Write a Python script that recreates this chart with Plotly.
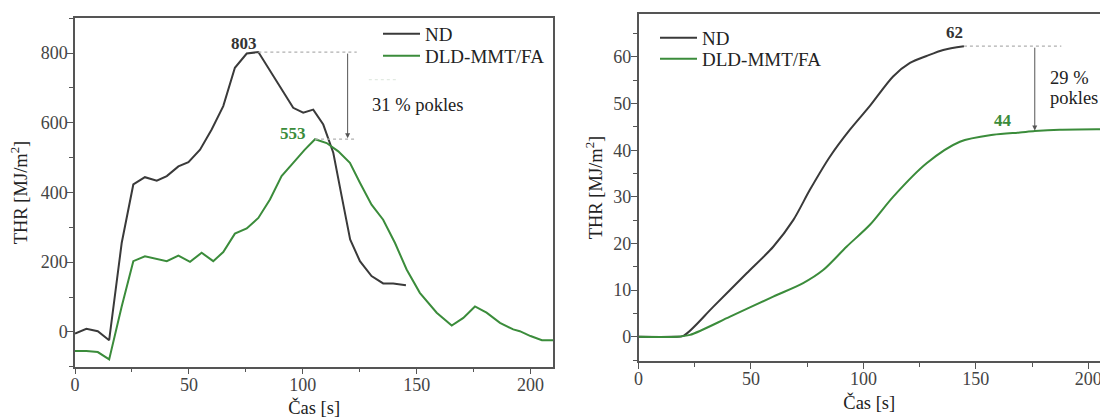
import plotly.graph_objects as go

# ---------------- data ----------------
series_names = ["ND", "DLD-MMT/FA"]

left_nd_time = [0, 5, 10, 15, 20.5, 25.6, 30.7, 35.9, 40.3, 45.4, 49.8, 54.9, 60, 65.1, 70.2,
                75.4, 80.5, 85, 90, 95.8, 100.2, 104.6, 109, 113.4, 117.1, 120.8, 125.1,
                130.2, 135.3, 139.7, 145.3]
left_nd_thr = [-5, 9, 2, -24, 255, 423, 444, 434, 447, 475, 487, 523, 581, 648, 758,
               799, 803, 757, 705, 643, 629, 638, 595, 514, 389, 265, 203,
               160, 139, 139, 134]

left_fa_time = [0, 5, 10, 15, 20.5, 25.6, 30.7, 35.9, 40.3, 45.4, 50.5, 55.6, 60.7, 65.1,
                70.2, 75.4, 80.5, 85.6, 90.7, 95.8, 100.9, 105.4, 110.5, 115.6, 120.7,
                125.1, 130.2, 135.3, 140.5, 145.6, 151.4, 158.8, 165.4, 170.5, 175.6,
                180.7, 186.6, 192.4, 195.3, 200, 205, 210]
left_fa_thr = [-55, -55, -58, -79, 73, 203, 217, 209, 203, 219, 201, 227, 203, 229,
               282, 297, 327, 380, 447, 485, 523, 553, 542, 518, 485,
               428, 365, 322, 255, 179, 112, 55, 18, 40, 73,
               55, 26, 7, 2, -12, -24, -24]

right_nd_time = [0, 15, 20, 33.2, 48.1, 59.9, 68.8, 76.2, 85.1, 94, 102.9, 113.2, 120.7,
                 128.1, 135.5, 144.7]
right_nd_thr = [0, 0, 0.2, 6.4, 13.6, 19.3, 25.0, 31.5, 38.6, 44.4, 49.5, 55.8, 58.7,
                60.2, 61.5, 62.3]

right_fa_time = [0, 17, 22.9, 40.7, 59.9, 73.2, 82.1, 92.5, 102.9, 113.2, 128.1, 142.9,
                 157.7, 169.6, 176.2, 187.3, 205, 212]
right_fa_thr = [0, 0, 0.4, 4.3, 8.6, 11.5, 14.3, 19.3, 24.0, 30.0, 37.2, 41.8,
                43.3, 43.8, 44.1, 44.4, 44.5, 44.5]

left_peaks = [803, 553]
right_peaks = [62, 44]
left_drop_text = "31 % pokles"
right_drop_lines = ["29 %", "pokles"]
x_title = "Čas [s]"
y_title = "THR [MJ/m<sup>2</sup>]"

# ---------------- style ----------------
FONT = "Liberation Serif, Times New Roman, Tinos, serif"
C_ND = "#3a3a3a"
C_FA = "#3b8c3b"
AX = "#555555"
TICKC = "#444444"
W, H = 1100, 418

fig = go.Figure()

fig.add_trace(go.Scatter(x=left_nd_time, y=left_nd_thr, mode="lines", name=series_names[0],
                         line=dict(color=C_ND, width=2), xaxis="x", yaxis="y", legend="legend"))
fig.add_trace(go.Scatter(x=left_fa_time, y=left_fa_thr, mode="lines", name=series_names[1],
                         line=dict(color=C_FA, width=2), xaxis="x", yaxis="y", legend="legend2"))
fig.add_trace(go.Scatter(x=right_nd_time, y=right_nd_thr, mode="lines", name=series_names[0],
                         line=dict(color=C_ND, width=2, shape="spline", smoothing=0.8),
                         xaxis="x2", yaxis="y2", legend="legend3"))
fig.add_trace(go.Scatter(x=right_fa_time, y=right_fa_thr, mode="lines", name=series_names[1],
                         line=dict(color=C_FA, width=2, shape="spline", smoothing=0.8),
                         xaxis="x2", yaxis="y2", legend="legend4"))

def axis_common():
    return dict(showline=True, linecolor=AX, linewidth=1.5, ticks="outside", ticklen=6,
                tickwidth=1.2, tickcolor=AX, showgrid=False, zeroline=False, automargin=False,
                ticklabeloverflow="allow",
                tickfont=dict(family=FONT, size=18, color=TICKC),
                title_font=dict(family=FONT, size=18.5, color="#222222"))

xl = axis_common()
xl.update(domain=[75 / W, 553.3 / W], range=[0, 210], dtick=50, tick0=0,
          mirror=True, anchor="y", title=dict(text=x_title, standoff=8), ticklabelstandoff=-5,
          minor=dict(dtick=25, ticks="outside", ticklen=4, tickcolor=AX))
yl = axis_common()
yl.update(domain=[(H - 366.7) / H, (H - 18.3) / H], range=[-100, 900], dtick=200,
          tick0=0, mirror=True, anchor="x", title=dict(text=y_title, standoff=8), ticklabelstandoff=-4,
          minor=dict(dtick=100, ticks="outside", ticklen=4, tickcolor=AX))
xr = axis_common()
xr.update(domain=[638.5 / W, 1.0], range=[0, 205.2], dtick=50, tick0=0,
          mirror=True, anchor="y2", title=dict(text=x_title, standoff=8), ticklabelstandoff=-5,
          minor=dict(dtick=25, ticks="outside", ticklen=4, tickcolor=AX))
yr = axis_common()
yr.update(domain=[(H - 361) / H, (H - 14) / H], range=[-5.2, 69.2], dtick=10,
          tick0=0, mirror=False, anchor="x2", title=dict(text=y_title, standoff=6), ticklabelstandoff=-4,
          minor=dict(dtick=5, ticks="outside", ticklen=4, tickcolor=AX))

def leg(xpx, ypx):
    return dict(x=xpx / W, y=(H - ypx) / H, xanchor="left", yanchor="top",
                bgcolor="rgba(0,0,0,0)", font=dict(family=FONT, size=19, color="#222222"),
                itemwidth=37)

fig.update_layout(
    width=W, height=H,
    margin=dict(l=0, r=0, t=0, b=0, autoexpand=False),
    paper_bgcolor="white", plot_bgcolor="white",
    font=dict(family=FONT, size=16, color="#222222"),
    xaxis=xl, yaxis=yl, xaxis2=xr, yaxis2=yr,
    legend=leg(378, 15), legend2=leg(378, 37),
    legend3=leg(655, 19), legend4=leg(655, 40),
    showlegend=True,
)

# guide lines (dotted)
dot = dict(color="#b0b0b0", width=1.2, dash="dot")
fig.add_shape(type="line", xref="x", yref="y", x0=80.5, x1=123.7, y0=left_peaks[0], y1=left_peaks[0], line=dot)
fig.add_shape(type="line", xref="x", yref="y", x0=105.4, x1=123.7, y0=left_peaks[1], y1=left_peaks[1], line=dot)
fig.add_shape(type="line", xref="x", yref="y", x0=129, x1=142, y0=724, y1=724,
              line=dict(color="#e2eae2", width=1.2, dash="dot"))
fig.add_shape(type="line", xref="x2", yref="y2", x0=144.7, x1=188, y0=right_peaks[0] + 0.3, y1=right_peaks[0] + 0.3, line=dot)

# arrows
fig.add_annotation(xref="x", yref="y", axref="x", ayref="y", x=119.7, y=left_peaks[1] + 3,
                   ax=119.7, ay=left_peaks[0], text="", showarrow=True, arrowhead=2,
                   arrowsize=1, arrowwidth=1, arrowcolor="#555555")
fig.add_annotation(xref="x2", yref="y2", axref="x2", ayref="y2", x=176.2, y=right_peaks[1] + 0.2,
                   ax=176.2, ay=right_peaks[0] + 0.3, text="", showarrow=True, arrowhead=2,
                   arrowsize=1, arrowwidth=1, arrowcolor="#555555")

# labels
fig.add_annotation(xref="x", yref="y", x=74, y=829, text=f"<b>{left_peaks[0]}</b>", showarrow=False,
                   font=dict(family=FONT, size=17, color="#333333"))
fig.add_annotation(xref="x", yref="y", x=95.6, y=570, text=f"<b>{left_peaks[1]}</b>", showarrow=False,
                   font=dict(family=FONT, size=17, color=C_FA))
fig.add_annotation(xref="x", yref="y", x=129.5, y=652, text=left_drop_text, showarrow=False,
                   xanchor="left", font=dict(family=FONT, size=18.5, color="#222222"))
fig.add_annotation(xref="x2", yref="y2", x=140.7, y=65.3, text=f"<b>{right_peaks[0]}</b>", showarrow=False,
                   font=dict(family=FONT, size=17, color="#333333"))
fig.add_annotation(xref="x2", yref="y2", x=162, y=46.4, text=f"<b>{right_peaks[1]}</b>", showarrow=False,
                   font=dict(family=FONT, size=17, color=C_FA))
fig.add_annotation(xref="x2", yref="y2", x=182, y=55.5, text=right_drop_lines[0], showarrow=False,
                   xanchor="left", font=dict(family=FONT, size=18.5, color="#222222"))
fig.add_annotation(xref="x2", yref="y2", x=182, y=51.2, text=right_drop_lines[1], showarrow=False,
                   xanchor="left", font=dict(family=FONT, size=18.5, color="#222222"))

fig.write_html("out.html", config={"displayModeBar": False},
               post_script="document.body.style.margin='0';")
